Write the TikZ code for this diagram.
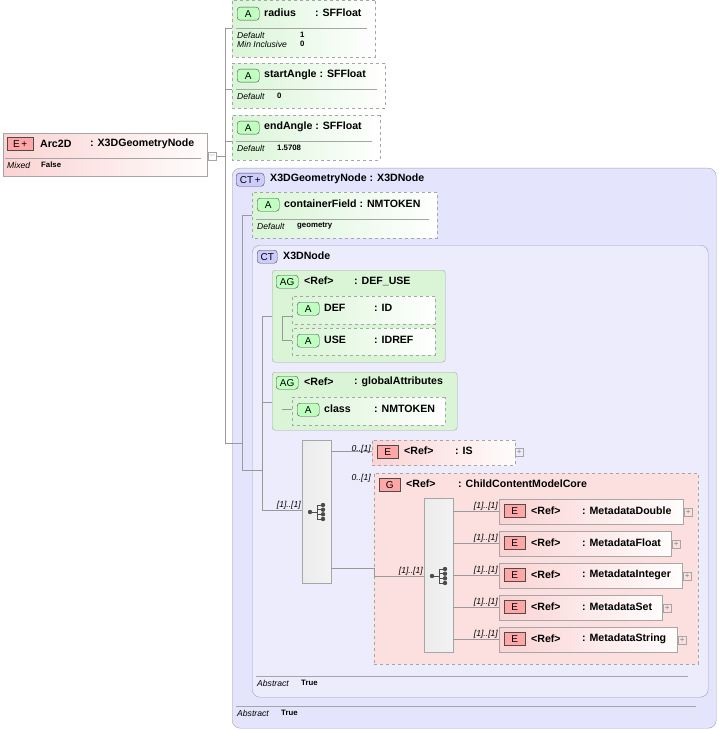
\documentclass[tikz,border=0pt]{standalone}
\usepackage{fontspec}
\setmainfont{Liberation Sans}
\usetikzlibrary{shapes.misc,positioning,calc}
\definecolor{grnfill}{HTML}{D9F5D6}
\definecolor{pnkfill}{HTML}{FBD3D3}
\definecolor{lavfill}{HTML}{E4E4FC}
\definecolor{lavline}{HTML}{A0A0B8}
\tikzset{
    box/.style={
           draw=gray!70, anchor=north west, inner sep=0pt},
    attrbox/.style={
           box, dashed, chamfered rectangle, chamfered rectangle corners=north west,
           chamfered rectangle xsep=4pt, chamfered rectangle ysep=4pt,
           left color=grnfill, right color=white},
    elembox/.style={
           box, left color=pnkfill, right color=white!95!pnkfill},
    ctbox/.style={
           box, draw=lavline, rounded corners=8pt, fill=lavfill},
    badge/.style={
           draw=black!70, anchor=north west, inner sep=0pt, minimum height=13pt,
           font=\fontsize{10}{10}\selectfont},
    abadge/.style={badge, fill=green!25, rounded corners=3pt, minimum width=22pt},
    ebadge/.style={badge, fill=red!35, minimum width=21pt},
    txt/.style={anchor=west, inner sep=0pt, font=\fontsize{10.6}{11}\bfseries\selectfont},
    note/.style={anchor=west, inner sep=0pt, font=\fontsize{8.6}{9}\itshape\selectfont},
    val/.style={anchor=west, inner sep=0pt, font=\fontsize{7.8}{9}\bfseries\selectfont},
    card/.style={anchor=south east, inner sep=1pt, font=\fontsize{8.6}{9}\itshape\selectfont},
    seq/.style={box, left color=gray!15, right color=white!90!gray, minimum width=29pt},
    wire/.style={draw=gray!80, thin},
    pl/.style={draw=gray!70, minimum size=8pt, inner sep=0pt, anchor=west,
           font=\fontsize{8}{8}\selectfont, text=gray}
}
\newcommand{\seqicon}[1]{%
  \fill[black!70] ($(#1)+(-7,0)$) circle (2.2pt);
  \draw[black!70, line width=0.8pt] ($(#1)+(-7,0)$) -- ($(#1)+(0,0)$) ($(#1)+(0,-7)$) -- ($(#1)+(0,7)$)
     ($(#1)+(0,-7)$) -- ($(#1)+(5,-7)$) ($(#1)+(0,7)$) -- ($(#1)+(5,7)$) ($(#1)+(0,2.3)$) -- ($(#1)+(5,2.3)$)
     ($(#1)+(0,-2.3)$) -- ($(#1)+(5,-2.3)$);
  \foreach \d in {-7,-2.3,2.3,7} \fill[black!70] ($(#1)+(6,\d)$) circle (2.2pt);}
\begin{document}
\begin{tikzpicture}[x=1pt,y=-1pt]
  \useasboundingbox (0,0) rectangle (719,730);
  % outer complex type
  \node[ctbox, minimum width=484pt, minimum height=560pt] (geo) at (232,168) {};
  \node[badge, fill=blue!20, rounded corners=3pt, minimum width=28pt] at (236,173) {CT\,+};
  \node[txt] at (270,179) {X3DGeometryNode : X3DNode};
  \draw[gray!70] (236,706) -- (696,706);
  \node[note] at (237,713) {Abstract}; \node[val] at (281,713) {True};
  % inner complex type
  \node[ctbox, fill=lavfill!70!white, minimum width=456pt, minimum height=452pt] (base) at (252,245) {};
  \node[badge, fill=blue!20, rounded corners=3pt, minimum width=20pt] at (257,250) {CT};
  \node[txt] at (283,256) {X3DNode};
  \draw[gray!70] (256,676) -- (688,676);
  \node[note] at (257,683) {Abstract}; \node[val] at (301,683) {True};

  % root element
  \node[elembox, minimum width=204pt, minimum height=43pt] (arc) at (3,133) {};
  \node[ebadge, minimum width=26pt] at (7,137) {E\,+};
  \node[txt] at (40,144) {Arc2D}; \node[txt] at (90,144) {: X3DGeometryNode};
  \draw[gray!70] (5,158) -- (201,158);
  \node[note] at (7,165) {Mixed}; \node[val] at (41,165) {False};
  \node[pl, minimum size=8pt] (arcm) at (208,156) {$-$};

  % attributes
  \node[attrbox, minimum width=143pt, minimum height=57pt] (rad) at (232,0) {};
  \node[abadge] at (237,7) {A};
  \node[txt] at (264,13) {radius}; \node[txt] at (315,13) {: SFFloat};
  \draw[gray!70] (236,28) -- (367,28);
  \node[note] at (237,35) {Default}; \node[val] at (300,35) {1};
  \node[note] at (237,44) {Min Inclusive}; \node[val] at (300,44) {0};

  \node[attrbox, minimum width=153pt, minimum height=45pt] (sta) at (232,63) {};
  \node[abadge] at (237,69) {A};
  \node[txt] at (264,75) {startAngle : SFFloat};
  \draw[gray!70] (236,89) -- (377,89);
  \node[note] at (237,96) {Default}; \node[val] at (277,96) {0};

  \node[attrbox, minimum width=148pt, minimum height=45pt] (ena) at (232,115) {};
  \node[abadge] at (237,121) {A};
  \node[txt] at (264,127) {endAngle : SFFloat};
  \draw[gray!70] (236,141) -- (372,141);
  \node[note] at (237,148) {Default}; \node[val] at (277,148) {1.5708};

  \node[attrbox, minimum width=185pt, minimum height=46pt] (cf) at (252,192) {};
  \node[abadge] at (257,198) {A};
  \node[txt] at (284,204) {containerField : NMTOKEN};
  \draw[gray!70] (256,219) -- (429,219);
  \node[note] at (257,226) {Default}; \node[val] at (297,226) {geometry};

  % attribute groups
  \node[box, fill=grnfill, rounded corners=3pt, minimum width=173pt, minimum height=92pt] (du) at (272,270) {};
  \node[abadge] at (276,275) {AG};
  \node[txt] at (304,281) {<Ref>}; \node[txt] at (354,281) {: DEF\_USE};
  \node[attrbox, minimum width=143pt, minimum height=28pt] (def) at (292,296) {};
  \node[abadge] at (297,302) {A};
  \node[txt] at (324,308) {DEF}; \node[txt] at (374,308) {: ID};
  \node[attrbox, minimum width=143pt, minimum height=27pt] (use) at (292,328) {};
  \node[abadge] at (297,334) {A};
  \node[txt] at (324,340) {USE}; \node[txt] at (374,340) {: IDREF};

  \node[box, fill=grnfill, rounded corners=3pt, minimum width=185pt, minimum height=58pt] (ga) at (272,372) {};
  \node[abadge] at (276,376) {AG};
  \node[txt] at (304,382) {<Ref>}; \node[txt] at (354,382) {: globalAttributes};
  \node[attrbox, minimum width=153pt, minimum height=28pt] (cls) at (292,397) {};
  \node[abadge] at (297,403) {A};
  \node[txt] at (324,409) {class}; \node[txt] at (374,409) {: NMTOKEN};

  % sequence and references
  \node[seq, minimum height=143pt] (sq) at (302,440) {};
  \seqicon{317,512}
  \node[elembox, dashed, minimum width=143pt, minimum height=25pt] (is) at (372,440) {};
  \node[ebadge] at (377,445) {E};
  \node[txt] at (404,451) {<Ref>}; \node[txt] at (455,451) {: IS};
  \node[pl] at (515,452) {+};

  \node[box, dashed, fill=pnkfill!70!white, minimum width=324pt, minimum height=191pt] (grp) at (374,473) {};
  \node[ebadge] at (379,478) {G};
  \node[txt] at (406,484) {<Ref>}; \node[txt] at (458,484) {: ChildContentModelCore};
  \node[seq, minimum height=154pt] (sq2) at (424,498) {};
  \seqicon{439,576}

  \foreach \y/\w/\n [count=\i] in {499/184/MetadataDouble, 531/172/MetadataFloat,
      563/183/MetadataInteger, 595/163/MetadataSet, 627/178/MetadataString} {
    \node[elembox, minimum width=\w pt, minimum height=25pt] (m\i) at (499,\y) {};
    \node[ebadge] at (504,\y+5) {E};
    \node[txt] at (531,\y+12) {<Ref>}; \node[txt] at (582,\y+12) {: \n};
    \node[pl] at (499+\w+1,\y+13) {+};
    \coordinate (mi\i) at (499,\y+12);
    \draw[wire] (sq2.east |- mi\i) -- (mi\i) node[card, pos=1] {[1]..[1]};
  }

  % connectors
  \coordinate (t0) at (225,156);
  \draw[wire] (arcm.east) -- (t0);
  \draw[wire] (225,28) -- (225,443) -- (242,443);
  \draw[wire] (225,28) -- (rad.west |- 225,28);
  \draw[wire] (225,89) -- (sta.west |- 225,89);
  \draw[wire] (225,141) -- (ena.west |- 225,141);
  \draw[wire] (242,215) -- (cf.west |- 242,215);
  \draw[wire] (242,215) -- (242,470) -- (262,470);
  \draw[wire] (262,316) -- (du.west |- 262,316);
  \draw[wire] (262,402) -- (ga.west |- 262,402);
  \draw[wire] (282,316) -- (def.west |- 282,316);
  \draw[wire] (282,316) -- (282,340) -- (use.west |- 282,340);
  \draw[wire] (282,409) -- (cls.west |- 282,409);
  \draw[wire] (262,316) -- (262,510) -- (sq.west |- 262,510) node[card, pos=1] {[1]..[1]};
  \draw[wire] (sq.east |- 0,451) -- (is.west |- 0,451) node[card, pos=1, yshift=-3pt] {0..[1]};
  \draw[wire] (sq.east |- 0,568) -- (374,568) -- (374,576) -- (sq2.west |- 0,576) node[card, pos=1] {[1]..[1]};
  \node[card] at (372,483) {0..[1]};
\end{tikzpicture}
\end{document}
